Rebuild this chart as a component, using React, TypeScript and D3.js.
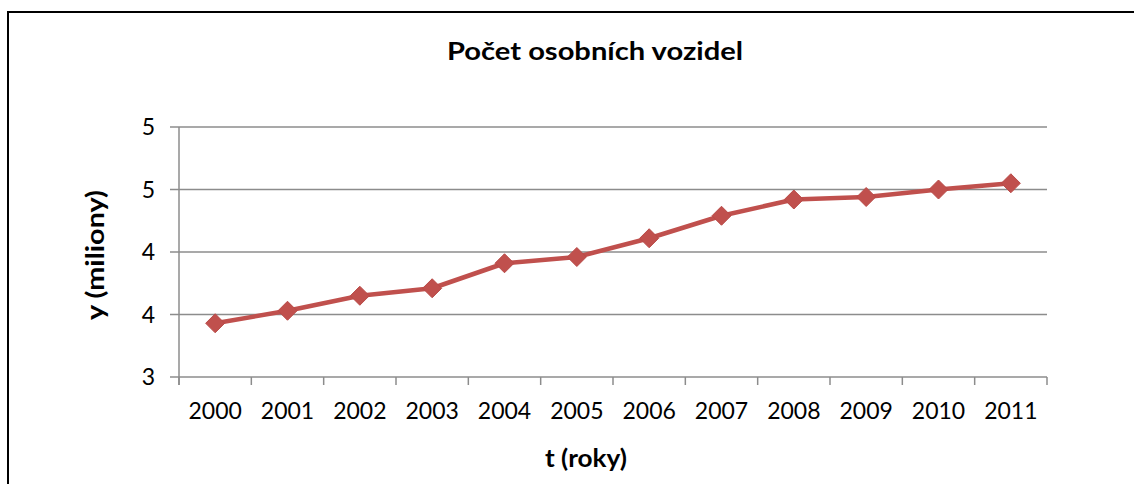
import React from "react";
import * as d3 from "d3";

const years = ["2000","2001","2002","2003","2004","2005","2006","2007","2008","2009","2010","2011"];
const values = [3.43, 3.53, 3.65, 3.71, 3.91, 3.96, 4.11, 4.29, 4.42, 4.44, 4.50, 4.55];
const yTicks = [3, 3.5, 4, 4.5, 5];
const yTickLabels = ["3", "4", "4", "5", "5"];
const title = "Počet osobních vozidel";
const xTitle = "t (roky)";
const yTitle = "y (miliony)";

const W = 1134, H = 484;
const left = 179, right = 1047, top = 127, bottom = 377;
const font = "Lato, 'Open Sans', sans-serif";

export default function App() {
  const x = d3.scaleBand<string>().domain(years).range([left, right]).padding(0);
  const y = d3.scaleLinear().domain([3, 5]).range([bottom, top]);
  const line = d3.line<number>()
    .x((_, i) => (x(years[i]) as number) + x.bandwidth() / 2)
    .y((d) => y(d));
  const grid = "#8c8c8c";
  const boundaries = years.map((yr) => x(yr) as number).concat([right]);
  const dsz = 9.5;
  return (
    <svg width={W} height={H} style={{ position: "absolute", left: 0, top: 0, background: "#fff" }}>
      <rect x={0} y={0} width={W} height={H} fill="#fff" />
      <rect x={8} y={12} width={W + 20} height={H + 20} fill="none" stroke="#000" strokeWidth={2} />
      <text x={595} y={60} textAnchor="middle" fontFamily={font} fontWeight="bold" fontSize={25} textLength={296} lengthAdjust="spacingAndGlyphs" fill="#000">{title}</text>
      {yTicks.map((t, i) => (
        <g key={"g" + i}>
          <line x1={170} x2={right} y1={y(t)} y2={y(t)} stroke={grid} strokeWidth={1.5} />
          <text x={155} y={y(t)} dy="0.36em" textAnchor="end" fontFamily={font} fontSize={23} fill="#000">{yTickLabels[i]}</text>
        </g>
      ))}
      <line x1={left} x2={left} y1={top} y2={bottom + 8} stroke={grid} strokeWidth={1.5} />
      {boundaries.map((bx, i) => (
        <line key={"t" + i} x1={bx} x2={bx} y1={bottom} y2={bottom + 8} stroke={grid} strokeWidth={1.5} />
      ))}
      {years.map((yr) => (
        <text key={yr} x={(x(yr) as number) + x.bandwidth() / 2} y={419} textAnchor="middle" fontFamily={font} fontSize={23} fill="#000">{yr}</text>
      ))}
      <text x={586} y={467} textAnchor="middle" fontFamily={font} fontWeight="bold" fontSize={24} textLength={82} lengthAdjust="spacingAndGlyphs" fill="#000">{xTitle}</text>
      <text transform={`translate(104,255) rotate(-90)`} textAnchor="middle" fontFamily={font} fontWeight="bold" fontSize={24} textLength={130} lengthAdjust="spacingAndGlyphs" fill="#000">{yTitle}</text>
      <path d={line(values) || ""} fill="none" stroke="#C0504D" strokeWidth={4.5} strokeLinejoin="round" />
      {values.map((v, i) => {
        const cx = (x(years[i]) as number) + x.bandwidth() / 2;
        const cy = y(v);
        return (
          <path key={"m" + i} d={`M${cx},${cy - dsz}L${cx + dsz},${cy}L${cx},${cy + dsz}L${cx - dsz},${cy}Z`} fill="#C0504D" stroke="#B94A47" strokeWidth={1} />
        );
      })}
    </svg>
  );
}
